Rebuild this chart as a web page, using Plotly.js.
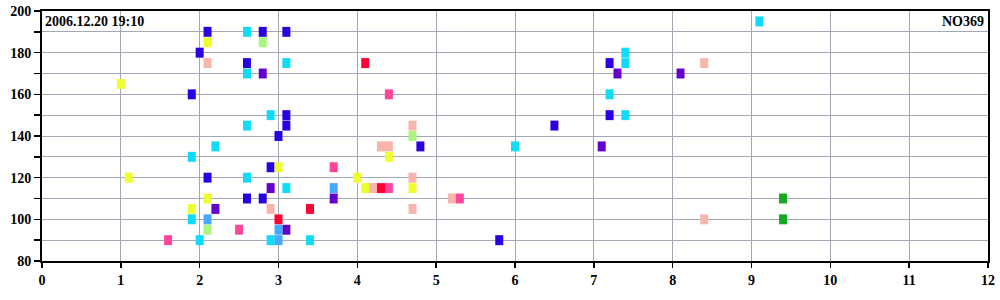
<!DOCTYPE html>
<html>
<head>
<meta charset="utf-8">
<script src="https://cdn.plot.ly/plotly-3.0.1.min.js"></script>
<style>html,body{margin:0;padding:0;background:#fff;}#chart{width:1000px;height:300px;}</style>
</head>
<body>
<div id="chart"></div>
<script>
// Data, grouped by colour
const xBlue = [2.1, 2.0, 1.9, 2.8, 3.1, 2.6, 3.1, 3.1, 3.0, 4.8, 7.2, 7.2, 6.5, 5.8, 2.1, 2.6, 2.9, 2.8];
const yBlue = [190, 180, 160, 190, 190, 175, 150, 145, 140, 135, 175, 150, 145, 90, 120, 110, 125, 110];
const xCyan = [2.6, 2.6, 3.1, 2.9, 2.6, 2.2, 1.9, 7.4, 7.4, 7.2, 7.4, 6.0, 9.1, 2.6, 1.9, 2.0, 3.1, 2.9, 3.4];
const yCyan = [190, 170, 175, 150, 145, 135, 130, 180, 175, 160, 150, 135, 195, 120, 100, 90, 115, 90, 90];
const xYellow = [2.1, 1.0, 1.1, 2.1, 1.9, 3.0, 4.0, 4.1, 4.7, 4.4];
const yYellow = [185, 165, 120, 110, 105, 125, 120, 115, 115, 130];
const xSalmon = [2.1, 4.7, 4.3, 4.4, 8.4, 8.4, 4.7, 4.2, 5.2, 2.9, 4.7];
const ySalmon = [175, 145, 135, 135, 175, 100, 120, 115, 110, 105, 105];
const xPurple = [2.8, 7.3, 8.1, 7.1, 2.2, 2.9, 3.7, 3.1];
const yPurple = [170, 170, 170, 135, 105, 115, 110, 95];
const xRed = [4.1, 4.3, 3.4, 3.0];
const yRed = [175, 115, 105, 100];
const xPink = [4.4, 3.7, 4.4, 5.3, 2.5, 1.6];
const yPink = [160, 125, 115, 110, 95, 90];
const xLightGreen = [2.8, 4.7, 2.1];
const yLightGreen = [185, 140, 95];
const xMidBlue = [2.1, 3.7, 3.0, 3.0];
const yMidBlue = [100, 115, 95, 90];
const xGreen = [9.4, 9.4];
const yGreen = [110, 100];

const dateLabel = "2006.12.20 19:10";
const idLabel = "NO369";

const groups = [
  [xBlue, yBlue, "#2a00e2"],
  [xSalmon, ySalmon, "#f7b5ab"],
  [xYellow, yYellow, "#eeff30"],
  [xPurple, yPurple, "#6600cc"],
  [xRed, yRed, "#ff0033"],
  [xPink, yPink, "#ff4499"],
  [xLightGreen, yLightGreen, "#aaf580"],
  [xCyan, yCyan, "#11dcf8"],
  [xMidBlue, yMidBlue, "#44aaff"],
  [xGreen, yGreen, "#11aa22"]
];

const traces = groups.map(g => ({
  x: g[0], y: g[1], type: "scatter", mode: "markers", hoverinfo: "skip",
  marker: { symbol: "line-ns", size: 7.1, color: g[2], line: { color: g[2], width: 8 } }
}));

const tickFont = { family: "Liberation Serif, Times New Roman, serif", size: 14, color: "#000", weight: "bold" };
const gridC = "#a4a7b6";

const layout = {
  width: 1000, height: 300,
  margin: { l: 42, r: 12, t: 11, b: 39 },
  paper_bgcolor: "#fff", plot_bgcolor: "#fff",
  showlegend: false,
  xaxis: {
    range: [0, 12], dtick: 1, tick0: 0, showgrid: true, gridcolor: gridC, gridwidth: 1,
    zeroline: false, showline: true, linecolor: "#000", linewidth: 2, mirror: true,
    ticks: "outside", ticklen: 5, tickcolor: "#000", tickwidth: 1.5, tickfont: tickFont, fixedrange: true
  },
  yaxis: {
    range: [80, 200], dtick: 20, tick0: 80, showgrid: true, gridcolor: gridC, gridwidth: 1,
    zeroline: false, showline: true, linecolor: "#000", linewidth: 2, mirror: true,
    ticks: "outside", ticklen: 6, tickcolor: "#000", tickwidth: 1.5, tickfont: tickFont, fixedrange: true,
    minor: { dtick: 10, tick0: 80, ticks: "outside", ticklen: 6, tickcolor: "#000", tickwidth: 1.5, showgrid: true, gridcolor: gridC, gridwidth: 1 }
  },
  annotations: [
    { text: dateLabel, xref: "paper", yref: "paper", x: 0, y: 1, xanchor: "left", yanchor: "top",
      xshift: 1, yshift: -1, showarrow: false, font: { family: "Liberation Serif, Times New Roman, serif", size: 14, color: "#000", weight: "bold" } },
    { text: idLabel, xref: "paper", yref: "paper", x: 1, y: 1, xanchor: "right", yanchor: "top",
      xshift: -2, yshift: -1, showarrow: false, font: { family: "Liberation Serif, Times New Roman, serif", size: 14, color: "#000", weight: "bold" } }
  ]
};

Plotly.newPlot("chart", traces, layout, { displayModeBar: false, staticPlot: true });
</script>
</body>
</html>
